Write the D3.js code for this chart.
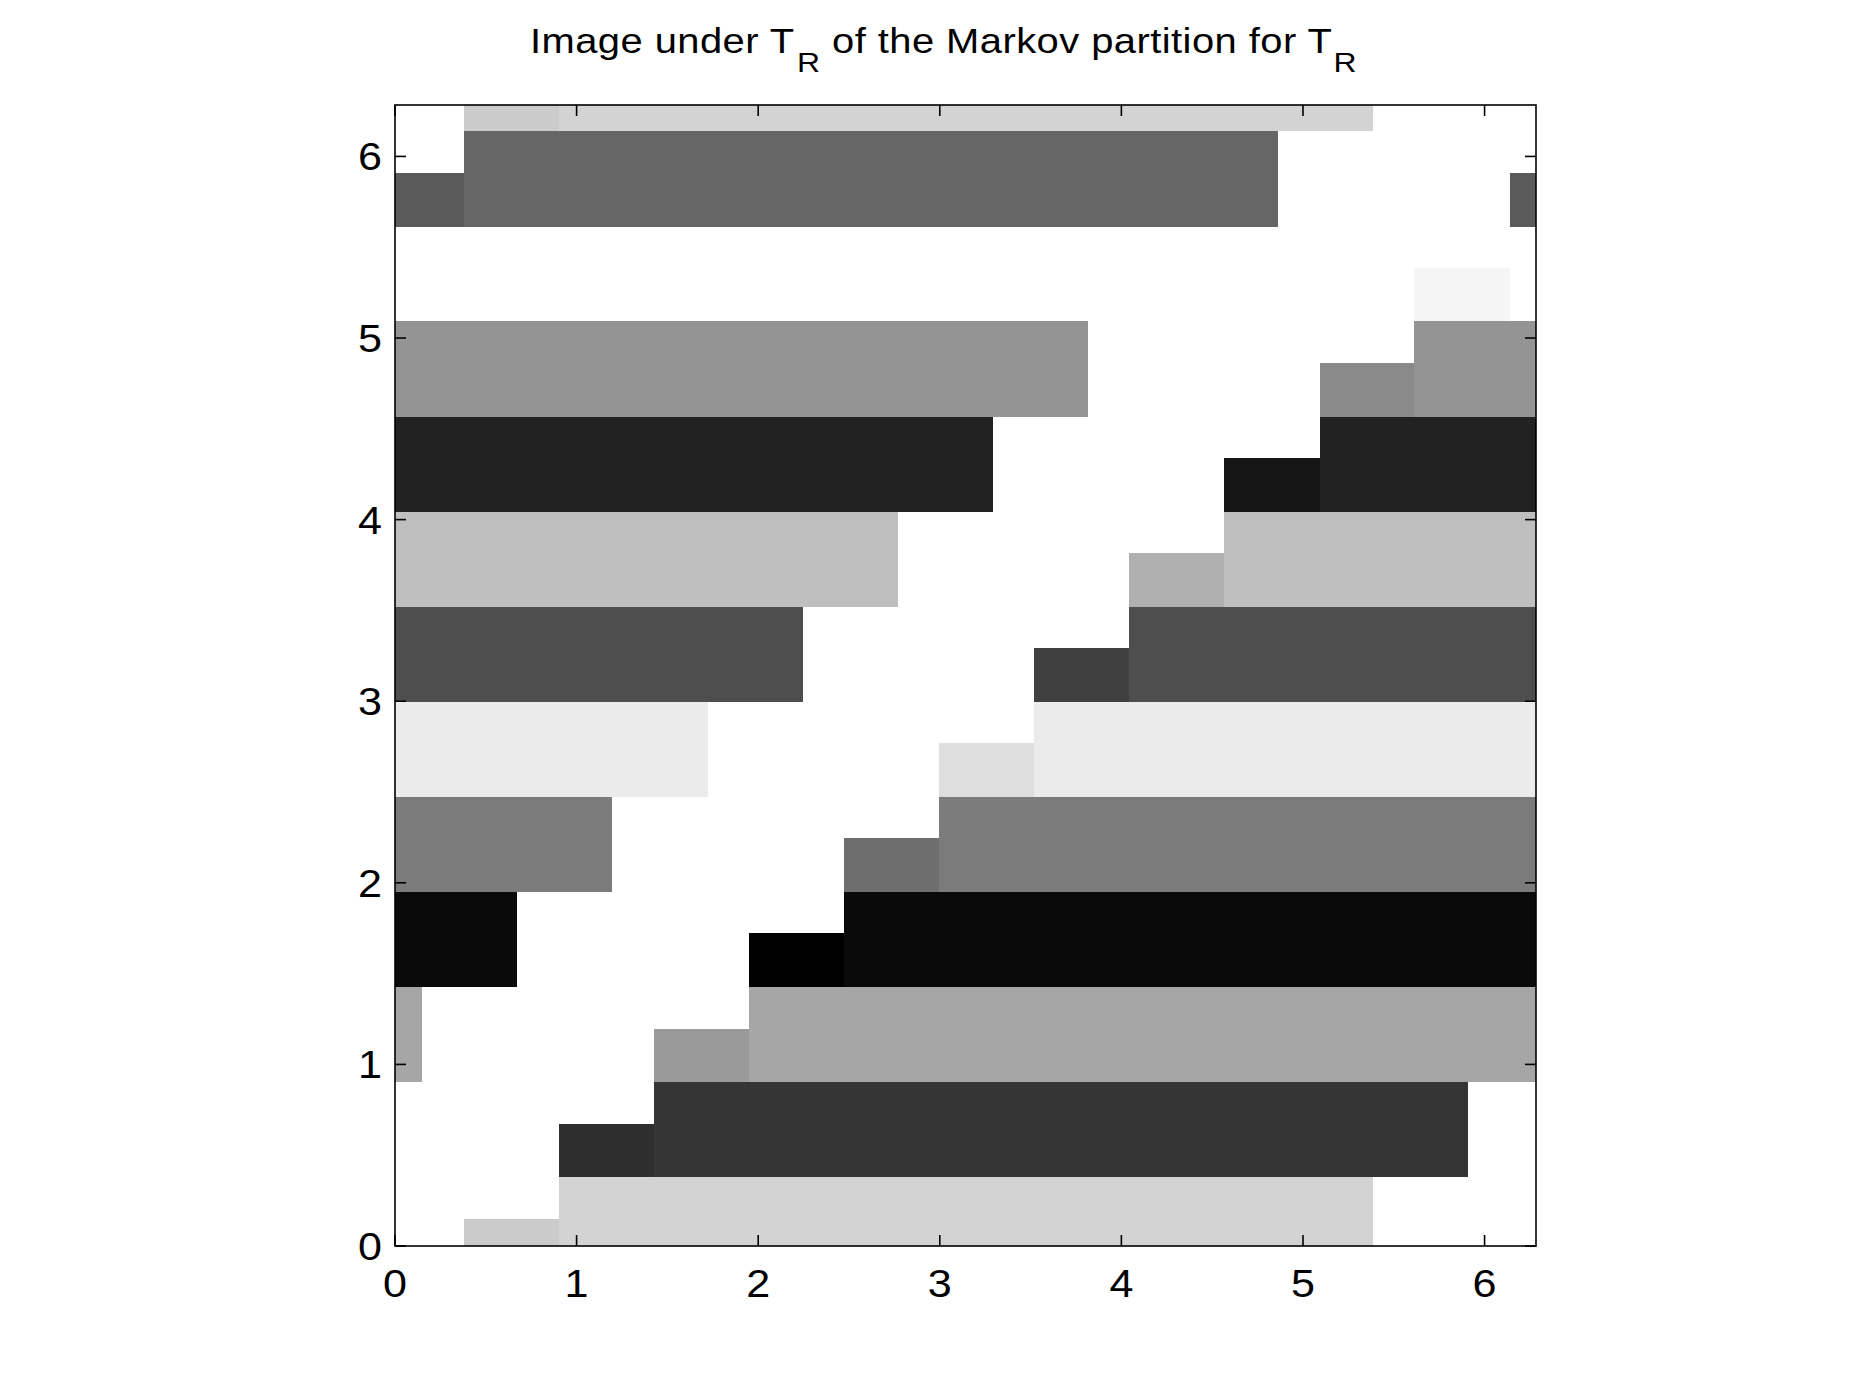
<!DOCTYPE html>
<html>
<head>
<meta charset="utf-8">
<script src="https://cdn.jsdelivr.net/npm/d3@7"></script>
<style>
  body { margin: 0; background: #fff; }
  text { font-family: "Liberation Sans", Arial, Helvetica, sans-serif; fill: #000; }
</style>
</head>
<body>
<svg width="1867" height="1400"></svg>
<script>
const TWO_PI = 2 * Math.PI;

// partition points
const bandLo = [6.138, 0.378, 0.902, 1.425, 1.949, 2.473, 2.996, 3.520, 4.043, 4.567, 5.091, 5.614];
const bandHi = [0.378, 0.902, 1.425, 1.949, 2.473, 2.996, 3.520, 4.043, 4.567, 5.091, 5.614, 6.138];
const mainLo = [0.902, 1.425, 1.949, 2.473, 2.996, 3.520, 4.043, 4.567, 5.091, 5.614, 6.138, 0.378];
const mainHi = [5.386, 5.910, 0.150, 0.674, 1.197, 1.721, 2.245, 2.768, 3.292, 3.815, 4.339, 4.863];
const stepLo = [0.378, 0.902, 1.425, 1.949, 2.473, 2.996, 3.520, 4.043, 4.567, 5.091, 5.614, 6.138];
const stepHi = [0.902, 1.425, 1.949, 2.473, 2.996, 3.520, 4.043, 4.567, 5.091, 5.614, 6.138, 0.378];
const stepTop = [0.150, 0.674, 1.197, 1.721, 2.245, 2.768, 3.292, 3.815, 4.339, 4.863, 5.386, 5.910];
const mainGray = [211, 53, 166, 10, 123, 235, 78, 191, 34, 148, 255, 102];
const stepGray = [203, 46, 154, 0, 110, 222, 64, 176, 21, 138, 245, 90];
const ticks = [0, 1, 2, 3, 4, 5, 6];

const svg = d3.select('svg');
const margin = { left: 395, top: 105, right: 1867 - 1536, bottom: 1400 - 1246 };
const w = 1867 - margin.left - margin.right;
const h = 1400 - margin.top - margin.bottom;
const stretch = 1.12; // glyphs in the picture are a bit wide

const x = d3.scaleLinear().domain([0, TWO_PI]).range([0, w]);
const y = d3.scaleLinear().domain([0, TWO_PI]).range([h, 0]);

const g = svg.append('g').attr('transform', `translate(${margin.left},${margin.top})`);

// split an arc [lo, hi] of the circle into plain intervals
const pieces = (lo, hi) => hi >= lo ? [[lo, hi]] : [[lo, TWO_PI], [0, hi]];

let cells = [];
bandLo.forEach((_, i) => {
  pieces(mainLo[i], mainHi[i]).forEach(px => {
    pieces(bandLo[i], bandHi[i]).forEach(py => {
      cells.push({ x0: px[0], x1: px[1], y0: py[0], y1: py[1], v: mainGray[i] });
    });
  });
  pieces(stepLo[i], stepHi[i]).forEach(px => {
    pieces(bandLo[i], stepTop[i]).forEach(py => {
      cells.push({ x0: px[0], x1: px[1], y0: py[0], y1: py[1], v: stepGray[i] });
    });
  });
});

g.selectAll('.cell')
  .data(cells)
  .enter().append('rect')
  .attr('class', 'cell')
  .attr('x', d => x(d.x0))
  .attr('y', d => y(d.y1))
  .attr('width', d => x(d.x1) - x(d.x0))
  .attr('height', d => y(d.y0) - y(d.y1))
  .attr('fill', d => d3.rgb(d.v, d.v, d.v))
  .attr('shape-rendering', 'crispEdges');

// box and inward ticks, matlab style
const tickLen = 11;
const axStyle = sel => sel.attr('stroke', '#000').attr('stroke-width', 1.6).attr('fill', 'none');

g.append('rect').attr('x', 0).attr('y', 0).attr('width', w).attr('height', h).call(axStyle);

ticks.forEach(t => {
  g.append('line').attr('x1', x(t)).attr('x2', x(t)).attr('y1', h).attr('y2', h - tickLen).call(axStyle);
  g.append('line').attr('x1', x(t)).attr('x2', x(t)).attr('y1', 0).attr('y2', tickLen).call(axStyle);
  g.append('line').attr('y1', y(t)).attr('y2', y(t)).attr('x1', 0).attr('x2', tickLen).call(axStyle);
  g.append('line').attr('y1', y(t)).attr('y2', y(t)).attr('x1', w).attr('x2', w - tickLen).call(axStyle);
});

g.selectAll('.xlab')
  .data(ticks)
  .enter().append('text')
  .attr('class', 'xlab')
  .attr('transform', d => `translate(${x(d)},${h + 51}) scale(${stretch},1)`)
  .attr('text-anchor', 'middle')
  .attr('font-size', 38.5)
  .text(d => d);

g.selectAll('.ylab')
  .data(ticks)
  .enter().append('text')
  .attr('class', 'ylab')
  .attr('transform', d => `translate(-13,${y(d) + 14}) scale(${stretch},1)`)
  .attr('text-anchor', 'end')
  .attr('font-size', 38.5)
  .text(d => d);

// title with subscripts, fitted to the width seen in the picture
const tStretch = 1.14;
const title = svg.append('text')
  .attr('transform', `translate(530,53) scale(${tStretch},1)`)
  .attr('font-size', 35);
title.append('tspan').text('Image under T');
title.append('tspan').attr('dy', 19).attr('dx', 2).attr('font-size', 28).text('R');
title.append('tspan').attr('dy', -19).text(' of the Markov partition for T');
title.append('tspan').attr('dy', 19).attr('dx', 1).attr('font-size', 28).text('R');

const targetW = 827 / tStretch;
const nChars = 'Image under TR of the Markov partition for TR'.length;
for (let k = 0; k < 3; k++) {
  const bw = title.node().getBBox().width;
  const ls = (+title.attr('letter-spacing') || 0) + (targetW - bw) / nChars;
  title.attr('letter-spacing', ls);
}
</script>
</body>
</html>
